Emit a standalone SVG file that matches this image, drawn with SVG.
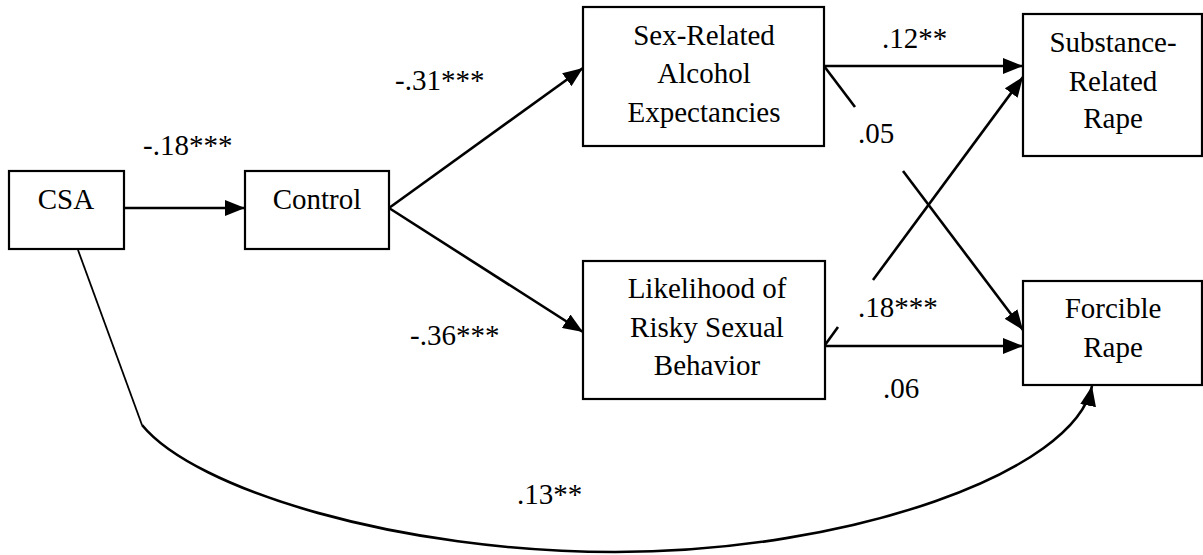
<svg xmlns="http://www.w3.org/2000/svg" width="1203" height="555" viewBox="0 0 1203 555">
<style>
.box{fill:#fff;stroke:#000;stroke-width:2.2}
.t{font-family:"Liberation Serif","Times New Roman",serif;font-size:29px;fill:#000}
.c{text-anchor:middle}
.ln{fill:none;stroke:#000;stroke-width:2.6}
.thin{fill:none;stroke:#000;stroke-width:1.8}
</style>
<defs>
<marker id="ah" markerUnits="userSpaceOnUse" markerWidth="20" markerHeight="16" viewBox="0 0 20 16" refX="20" refY="8" orient="auto">
<path d="M0,0 L20,8 L0,16 Z" fill="#000"/>
</marker>
</defs>
<rect width="1203" height="555" fill="#fff"/>
<g id="connectors">
<line class="ln" x1="124" y1="208" x2="245" y2="208" marker-end="url(#ah)"/>
<line class="ln" x1="389" y1="208" x2="583" y2="68" marker-end="url(#ah)"/>
<line class="ln" x1="389" y1="208" x2="583" y2="332" marker-end="url(#ah)"/>
<line class="ln" x1="824" y1="66" x2="1023" y2="66" marker-end="url(#ah)"/>
<line class="ln" x1="824" y1="66" x2="855" y2="107"/>
<line class="ln" x1="903" y1="171" x2="1023" y2="330" marker-end="url(#ah)"/>
<line class="ln" x1="825" y1="345" x2="838" y2="327"/>
<line class="ln" x1="873" y1="280" x2="1023" y2="77" marker-end="url(#ah)"/>
<line class="ln" x1="825" y1="346" x2="1023" y2="346" marker-end="url(#ah)"/>
<path class="thin" d="M78,250 L142,425"/>
<path class="ln" d="M142,425 C195,490 400,552 615,552 C850,552 1075,472 1092,386" marker-end="url(#ah)"/>
</g>
<g id="labels">
<text class="t" x="143" y="155">-.18***</text>
<text class="t" x="395" y="90">-.31***</text>
<text class="t" x="410" y="345">-.36***</text>
<text class="t" x="882" y="48">.12**</text>
<text class="t" x="858" y="143">.05</text>
<text class="t" x="858" y="317">.18***</text>
<text class="t" x="883" y="398">.06</text>
<text class="t" x="517" y="504">.13**</text>
</g>
<g id="csa">
<rect class="box" x="9" y="171" width="115" height="78"/>
<text class="t c" x="66" y="209">CSA</text>
</g>
<g id="control">
<rect class="box" x="245" y="171" width="144" height="78"/>
<text class="t c" x="317" y="209">Control</text>
</g>
<g id="sex-related">
<rect class="box" x="583" y="7" width="241" height="139"/>
<text class="t c" x="704" y="45">Sex-Related</text>
<text class="t c" x="704" y="83">Alcohol</text>
<text class="t c" x="704" y="122">Expectancies</text>
</g>
<g id="likelihood">
<rect class="box" x="583" y="261" width="242" height="138"/>
<text class="t c" x="707" y="298">Likelihood of</text>
<text class="t c" x="707" y="337">Risky Sexual</text>
<text class="t c" x="707" y="375">Behavior</text>
</g>
<g id="substance">
<rect class="box" x="1023" y="14" width="179" height="142"/>
<text class="t c" x="1113" y="52">Substance-</text>
<text class="t c" x="1113" y="91">Related</text>
<text class="t c" x="1113" y="128">Rape</text>
</g>
<g id="forcible">
<rect class="box" x="1023" y="281" width="179" height="104"/>
<text class="t c" x="1113" y="318">Forcible</text>
<text class="t c" x="1113" y="357">Rape</text>
</g>
</svg>
